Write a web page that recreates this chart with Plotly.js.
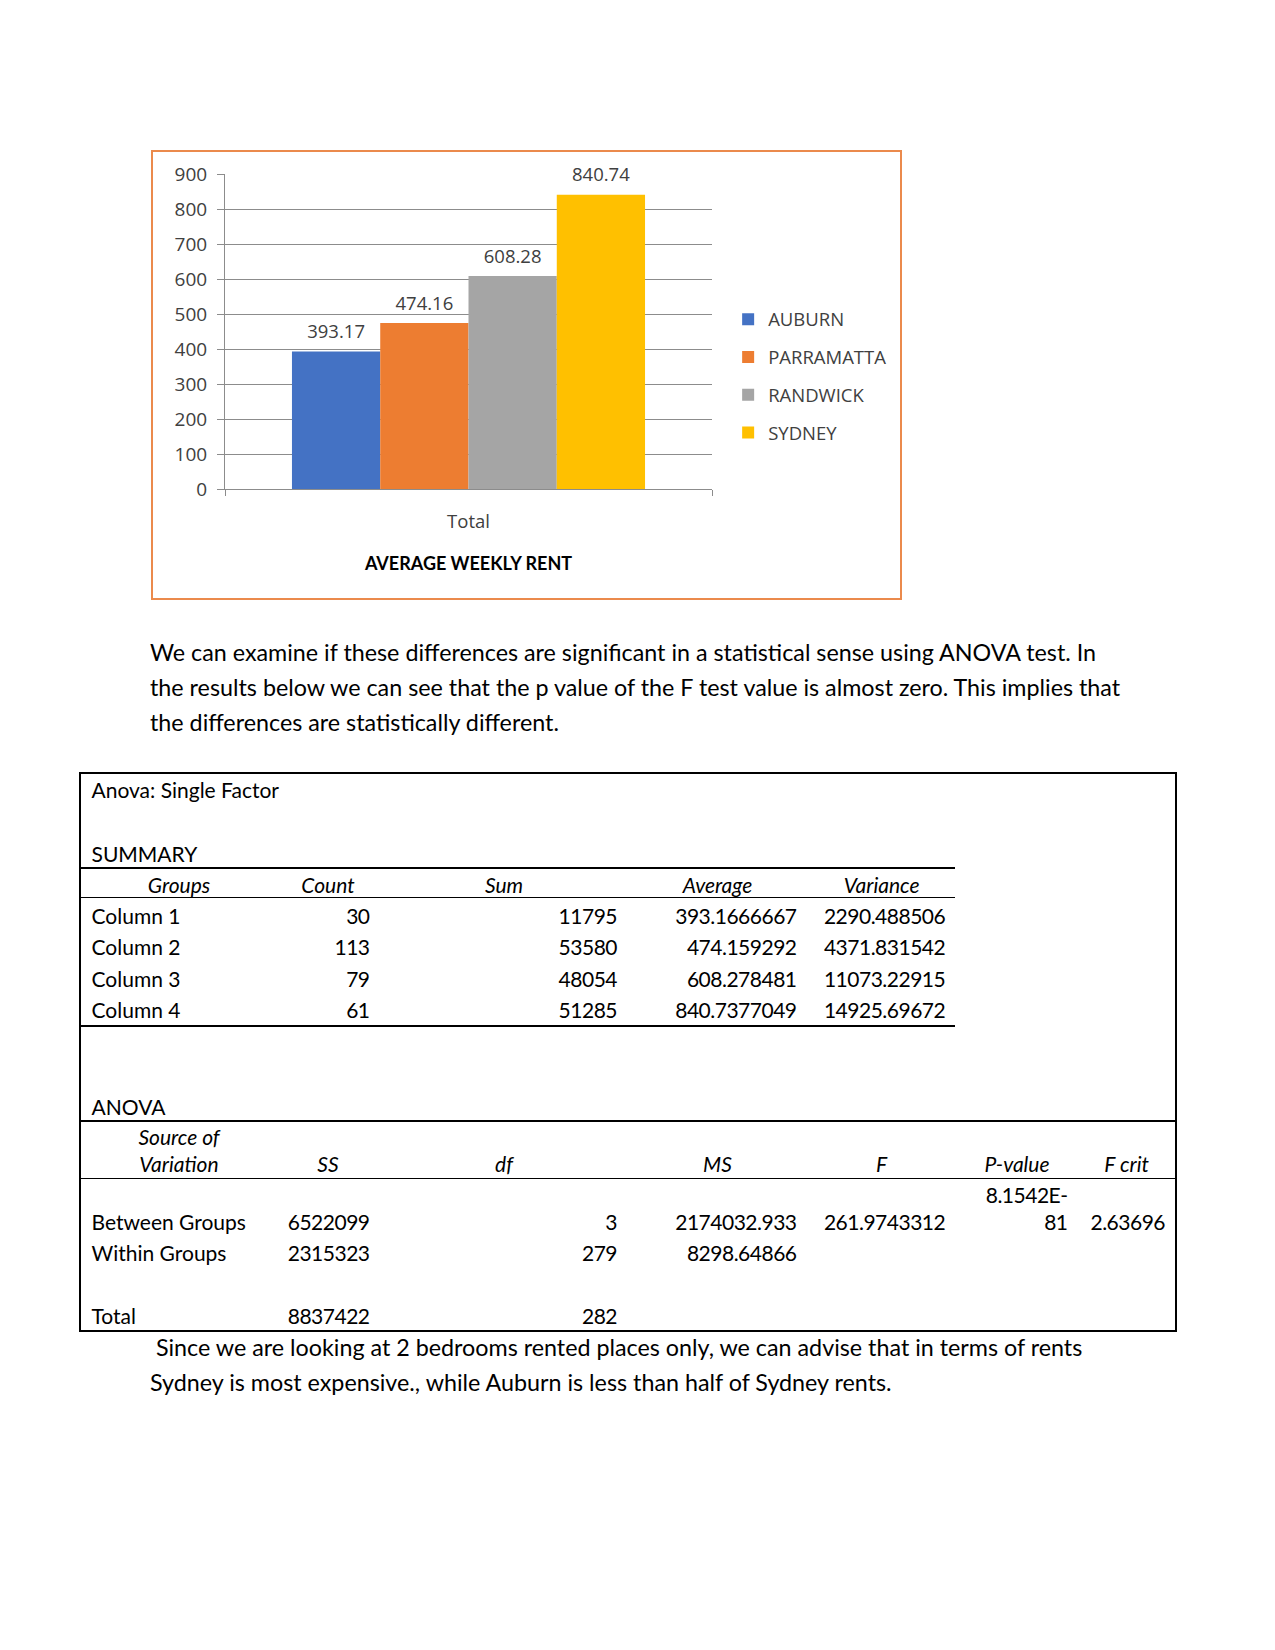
<!DOCTYPE html>
<html><head><meta charset="utf-8">
<script src="https://cdn.plot.ly/plotly-3.0.1.min.js"></script>
<style>
html,body{margin:0;padding:0;background:#fff;}
body{width:1275px;height:1650px;position:relative;overflow:hidden;font-family:Lato,'Noto Sans',sans-serif;color:#000;}
.t{position:absolute;white-space:pre;}
.hl{position:absolute;background:#000;}
</style></head><body>
<div id="chart" style="position:absolute;left:151px;top:150px;width:751px;height:450px;"></div>
<div style="position:absolute;left:151px;top:150px;width:751px;height:450px;box-sizing:border-box;border:2px solid #EB8A4C;pointer-events:none"></div>
<div id="doc"></div>
<script>
// ---------- chart data ----------
const suburbs = ['AUBURN', 'PARRAMATTA', 'RANDWICK', 'SYDNEY'];
const avgWeeklyRent = [393.17, 474.16, 608.28, 840.74];
const barColors = ['#4472C4', '#ED7D31', '#A5A5A5', '#FFC000'];
const category = ['Total'];
const chartTitle = 'AVERAGE WEEKLY RENT';

// ---------- text data ----------
const para1 = [
  'We can examine if these differences are significant in a statistical sense using ANOVA test. In',
  'the results below we can see that the p value of the F test value is almost zero. This implies that',
  'the differences are statistically different.'
];
const para2 = [
  ' Since we are looking at 2 bedrooms rented places only, we can advise that in terms of rents',
  'Sydney is most expensive., while Auburn is less than half of Sydney rents.'
];

// ---------- ANOVA table data ----------
const tableTitle = 'Anova: Single Factor';
const summaryLabel = 'SUMMARY';
const summaryHeader = ['Groups', 'Count', 'Sum', 'Average', 'Variance'];
const groupNames = ['Column 1', 'Column 2', 'Column 3', 'Column 4'];
const groupCounts = ['30', '113', '79', '61'];
const groupSums = ['11795', '53580', '48054', '51285'];
const groupAverages = ['393.1666667', '474.159292', '608.278481', '840.7377049'];
const groupVariances = ['2290.488506', '4371.831542', '11073.22915', '14925.69672'];
const anovaLabel = 'ANOVA';
const anovaHeader = ['Source of\nVariation', 'SS', 'df', 'MS', 'F', 'P-value', 'F crit'];
const sources = ['Between Groups', 'Within Groups', '', 'Total'];
const ssValues = ['6522099', '2315323', '', '8837422'];
const dfValues = ['3', '279', '', '282'];
const msValues = ['2174032.933', '8298.64866', '', ''];
const fValues = ['261.9743312', '', '', ''];
const pValues = ['8.1542E-\n81', '', '', ''];
const fCritValues = ['2.63696', '', '', ''];

// ---------- chart ----------
const gray = '#8c8c8c';
const labelFont = {family: 'Open Sans', size: 18.5, color: '#404040'};
const barTraces = suburbs.map((s, i) => ({
  type: 'bar', name: s, x: category, y: [avgWeeklyRent[i]],
  marker: {color: barColors[i]}, legendgroup: s, hoverinfo: 'skip'
}));
const labelTraces = suburbs.map((s, i) => ({
  type: 'scatter', mode: 'markers+text', name: s + ' label', x: category, y: [avgWeeklyRent[i]],
  text: [avgWeeklyRent[i].toFixed(2)], textposition: 'top center', textfont: labelFont,
  marker: {size: 12.5, opacity: 0}, cliponaxis: false, showlegend: false, legendgroup: s
}));
Plotly.newPlot('chart', barTraces.concat(labelTraces), {
  width: 751, height: 450,
  margin: {l: 74, r: 190, t: 24, b: 111},
  paper_bgcolor: 'rgba(0,0,0,0)', plot_bgcolor: 'rgba(0,0,0,0)',
  barmode: 'group', bargap: 0.275, bargroupgap: 0,
  scattermode: 'group', scattergap: 0.275,
  font: {family: 'Open Sans', size: 18.5, color: '#404040'},
  xaxis: {type: 'category', tickson: 'boundaries', ticks: 'outside', ticklen: 6, tickcolor: gray,
    showline: true, linecolor: gray, linewidth: 1, showgrid: false, ticklabelstandoff: 16,
    tickfont: {family: 'Open Sans', size: 18.5, color: '#404040'},
    title: {text: chartTitle, standoff: 25, font: {family: 'Lato', size: 18, color: '#000', weight: 'bold'}}},
  yaxis: {range: [0, 900], dtick: 100, ticks: 'outside', ticklen: 7, tickcolor: gray,
    showline: true, linecolor: gray, gridcolor: gray, gridwidth: 1, zeroline: false,
    ticklabelstandoff: 6, tickfont: {family: 'Open Sans', size: 19, color: '#404040'}},
  showlegend: true,
  legend: {xref: 'container', yref: 'container', x: 0.7685, y: 0.665, xanchor: 'left', yanchor: 'top',
    traceorder: 'grouped', tracegroupgap: 10.7, bgcolor: 'rgba(0,0,0,0)',
    font: {family: 'Open Sans', size: 18.5, color: '#404040'}}
}, {staticPlot: true, displayModeBar: false});

// ---------- document text & table ----------
const doc = document.getElementById('doc');
function put(text, x, yc, align, size, opts) {
  opts = opts || {};
  const lh = opts.lh || Math.round(size * 1.4);
  const lines = text.split('\n');
  const h = lh * lines.length;
  const d = document.createElement('div');
  d.className = 't';
  d.textContent = text;
  d.style.fontSize = size + 'px';
  d.style.lineHeight = lh + 'px';
  d.style.top = (yc - h / 2) + 'px';
  if (opts.italic) d.style.fontStyle = 'italic';
  if (opts.ls) d.style.letterSpacing = opts.ls + 'px';
  const W = 600;
  if (align === 'left') { d.style.left = x + 'px'; }
  else if (align === 'right') { d.style.left = (x - W) + 'px'; d.style.width = W + 'px'; d.style.textAlign = 'right'; }
  else { d.style.left = (x - W / 2) + 'px'; d.style.width = W + 'px'; d.style.textAlign = 'center'; }
  doc.appendChild(d);
}
function hline(x1, x2, y, w) {
  const d = document.createElement('div'); d.className = 'hl';
  d.style.left = x1 + 'px'; d.style.width = (x2 - x1) + 'px';
  d.style.top = (y - w / 2) + 'px'; d.style.height = w + 'px';
  doc.appendChild(d);
}
function vline(x, y1, y2, w) {
  const d = document.createElement('div'); d.className = 'hl';
  d.style.left = (x - w / 2) + 'px'; d.style.width = w + 'px';
  d.style.top = y1 + 'px'; d.style.height = (y2 - y1) + 'px';
  doc.appendChild(d);
}

const PS = 23.3, TS = 21;
const num = {ls: -0.5};
para1.forEach((l, i) => put(l, 150, 652 + i * 35, 'left', PS));
put(para2[0], 150, 1347.6, 'left', PS);
put(para2[1], 150, 1382, 'left', PS);

// table frame
const TL = 80, TR = 1176, TT = 773, TB = 1331;
hline(TL, TR, TT, 2); hline(TL, TR, TB, 2); vline(TL, TT - 1, TB + 1, 2); vline(TR, TT - 1, TB + 1, 2);
hline(TL, 955, 867.7, 2); hline(TL, 955, 897.7, 1.2); hline(TL, 955, 1025.7, 2);
hline(TL, TR, 1120.7, 2); hline(TL, TR, 1178.3, 1.2);

const leftX = 91.5;
const centers = [179, 328, 504, 717.5, 881.6, 1017, 1126.6];
const rights = [369.5, 617, 796.5, 945.2, 1067.5, 1165];
put(tableTitle, leftX, 789, 'left', TS);
put(summaryLabel, leftX, 853, 'left', TS);
summaryHeader.forEach((h, i) => put(h, centers[i], 884, 'center', TS, {italic: true}));
const rowY = [915, 946.7, 978, 1009];
groupNames.forEach((g, r) => {
  put(g, leftX, rowY[r], 'left', TS);
  put(groupCounts[r], rights[0], rowY[r], 'right', TS, num);
  put(groupSums[r], rights[1], rowY[r], 'right', TS, num);
  put(groupAverages[r], rights[2], rowY[r], 'right', TS, num);
  put(groupVariances[r], rights[3], rowY[r], 'right', TS, num);
});
put(anovaLabel, leftX, 1106.7, 'left', TS);
put(anovaHeader[0], centers[0], 1149.8, 'center', TS, {italic: true, lh: 27});
anovaHeader.slice(1).forEach((h, i) => put(h, centers[i + 1], 1163.3, 'center', TS, {italic: true}));
const aRowY = [1221.7, 1252.3, 1283.8, 1315];
sources.forEach((s, r) => {
  const y = aRowY[r];
  if (s) put(s, leftX, y, 'left', TS);
  if (ssValues[r]) put(ssValues[r], rights[0], y, 'right', TS, num);
  if (dfValues[r]) put(dfValues[r], rights[1], y, 'right', TS, num);
  if (msValues[r]) put(msValues[r], rights[2], y, 'right', TS, num);
  if (fValues[r]) put(fValues[r], rights[3], y, 'right', TS, num);
  if (pValues[r]) put(pValues[r], rights[4], y - 13.7, 'right', TS, {lh: 27.4, ls: -0.5});
  if (fCritValues[r]) put(fCritValues[r], rights[5], y, 'right', TS, num);
});
</script>
</body></html>
